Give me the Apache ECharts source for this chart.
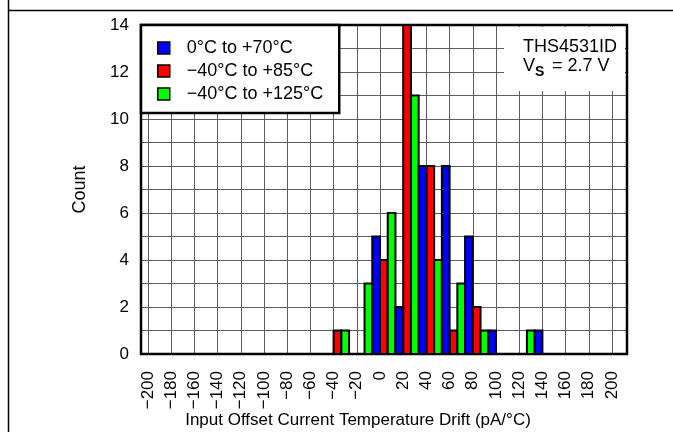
<!DOCTYPE html>
<html>
<head>
<meta charset="utf-8">
<script src="https://cdn.jsdelivr.net/npm/echarts@6/dist/echarts.min.js"></script>
<style>
html,body{margin:0;padding:0;background:#fff;}
#c{width:673px;height:432px;}
</style>
</head>
<body>
<div id="c"></div>
<script>
// Bin starts (pA/°C), each bin is 20 wide
var binStarts = [-40, -20, 0, 20, 40, 60, 80, 100, 120];
var seriesNames = ['0°C to +70°C', '−40°C to +85°C', '−40°C to +125°C'];
var countBlue  = [0, 5, 2, 8, 8, 5, 1, 0, 1];   // 0°C to +70°C
var countRed   = [1, 0, 4, 14, 8, 1, 2, 0, 0];  // −40°C to +85°C
var countGreen = [1, 3, 6, 11, 4, 3, 1, 0, 1];  // −40°C to +125°C
var xTicks = [-200, 200, 20];   // min, max, step
var yTicks = [0, 14, 2];

var FONT = "'Liberation Sans', Arial, Helvetica, sans-serif";
var BIN = 20;

function pairs(arr) {
  return binStarts.map(function (b, i) { return [b, arr[i]]; });
}

function makeRender(slot) {
  return function (params, api) {
    var b = api.value(0), c = api.value(1);
    if (!c) return null;
    var x0 = b + slot * BIN / 3, x1 = x0 + BIN / 3;
    var p0 = api.coord([x0, c]);
    var p1 = api.coord([x1, 0]);
    return {
      type: 'rect',
      shape: { x: p0[0], y: p0[1], width: p1[0] - p0[0], height: p1[1] - p0[1] },
      style: { fill: api.visual('color'), stroke: '#000', lineWidth: 2 }
    };
  };
}

var chart = echarts.init(document.getElementById('c'), null, { renderer: 'canvas' });

var GRIDC = '#5e5e5e';

var option = {
  animation: false,
  backgroundColor: '#fff',
  textStyle: { fontFamily: FONT },
  grid: [
    { left: 141, top: 25, width: 486, height: 329, show: true, borderColor: '#000', borderWidth: 2.5, backgroundColor: 'transparent', z: 3 },
    { left: 148, top: 25, width: 464, height: 329 }
  ],
  xAxis: [
    { type: 'value', gridIndex: 0, min: 0, max: 1, show: false },
    {
      type: 'value', gridIndex: 1, min: xTicks[0], max: xTicks[1], interval: xTicks[2],
      axisLine: { show: false }, axisTick: { show: false },
      splitLine: { show: true, lineStyle: { color: GRIDC, width: 1 } },
      axisLabel: {
        rotate: 90, margin: 17, fontSize: 17, color: '#000', fontFamily: FONT,
        formatter: function (v) { return v < 0 ? '−' + Math.abs(v) : String(v); }
      }
    }
  ],
  yAxis: [
    {
      type: 'value', gridIndex: 0, min: 0, max: 14, interval: 1,
      axisLine: { show: false }, axisTick: { show: false },
      splitLine: { show: true, lineStyle: { color: GRIDC, width: 1 } },
      axisLabel: {
        margin: 12, fontSize: 17, color: '#000', fontFamily: FONT,
        formatter: function (v) { return (v - yTicks[0]) % yTicks[2] === 0 ? String(v) : ''; }
      },
      name: 'Count', nameLocation: 'middle', nameGap: 52,
      nameTextStyle: { fontSize: 18, color: '#000', fontFamily: FONT }
    },
    { type: 'value', gridIndex: 1, min: 0, max: 14, show: false }
  ],
  legend: {
    orient: 'vertical', left: 141, top: 25,
    data: seriesNames,
    backgroundColor: '#fff', borderColor: '#000', borderWidth: 2.5,
    padding: [14, 16, 10, 16], itemGap: 5,
    itemWidth: 12, itemHeight: 12, icon: 'rect',
    itemStyle: { borderColor: '#000', borderWidth: 1.5 },
    textStyle: { fontSize: 18, lineHeight: 17, color: '#000', fontFamily: FONT, padding: [0, 0, 0, 12] },
    selectedMode: false, z: 10
  },
  graphic: [
    { type: 'rect', shape: { x: 504, y: 27, width: 121, height: 64 }, style: { fill: '#fff' }, z: 5 },
    { type: 'text', x: 523, y: 47, z: 6, style: { text: 'THS4531ID', font: '18px ' + FONT, fill: '#000', verticalAlign: 'middle' } },
    { type: 'text', x: 523, y: 66, z: 6, style: { text: 'V', font: '18px ' + FONT, fill: '#000', verticalAlign: 'middle' } },
    { type: 'text', x: 535, y: 72, z: 6, style: { text: 'S', font: 'bold 14px ' + FONT, fill: '#000', verticalAlign: 'middle' } },
    { type: 'text', x: 552, y: 66, z: 6, style: { text: '= 2.7 V', font: '18px ' + FONT, fill: '#000', verticalAlign: 'middle' } },
    { type: 'text', x: 358, y: 420, z: 6, style: { text: 'Input Offset Current Temperature Drift (pA/°C)', font: '17px ' + FONT, fill: '#000', align: 'center', verticalAlign: 'middle' } },
    { type: 'line', shape: { x1: 8.5, y1: 0, x2: 8.5, y2: 432 }, style: { stroke: '#000', lineWidth: 1.5 }, z: 6 },
    { type: 'line', shape: { x1: 8, y1: 10.5, x2: 673, y2: 10.5 }, style: { stroke: '#000', lineWidth: 1.5 }, z: 6 }
  ],
  series: [
    { name: seriesNames[1], type: 'custom', xAxisIndex: 1, yAxisIndex: 1, renderItem: makeRender(0), itemStyle: { color: '#ff0000' }, data: pairs(countRed), z: 4, clip: false },
    { name: seriesNames[2], type: 'custom', xAxisIndex: 1, yAxisIndex: 1, renderItem: makeRender(1), itemStyle: { color: '#00ff00' }, data: pairs(countGreen), z: 4, clip: false },
    { name: seriesNames[0], type: 'custom', xAxisIndex: 1, yAxisIndex: 1, renderItem: makeRender(2), itemStyle: { color: '#0000ff' }, data: pairs(countBlue), z: 4, clip: false }
  ]
};
chart.setOption(option);
</script>
</body>
</html>
